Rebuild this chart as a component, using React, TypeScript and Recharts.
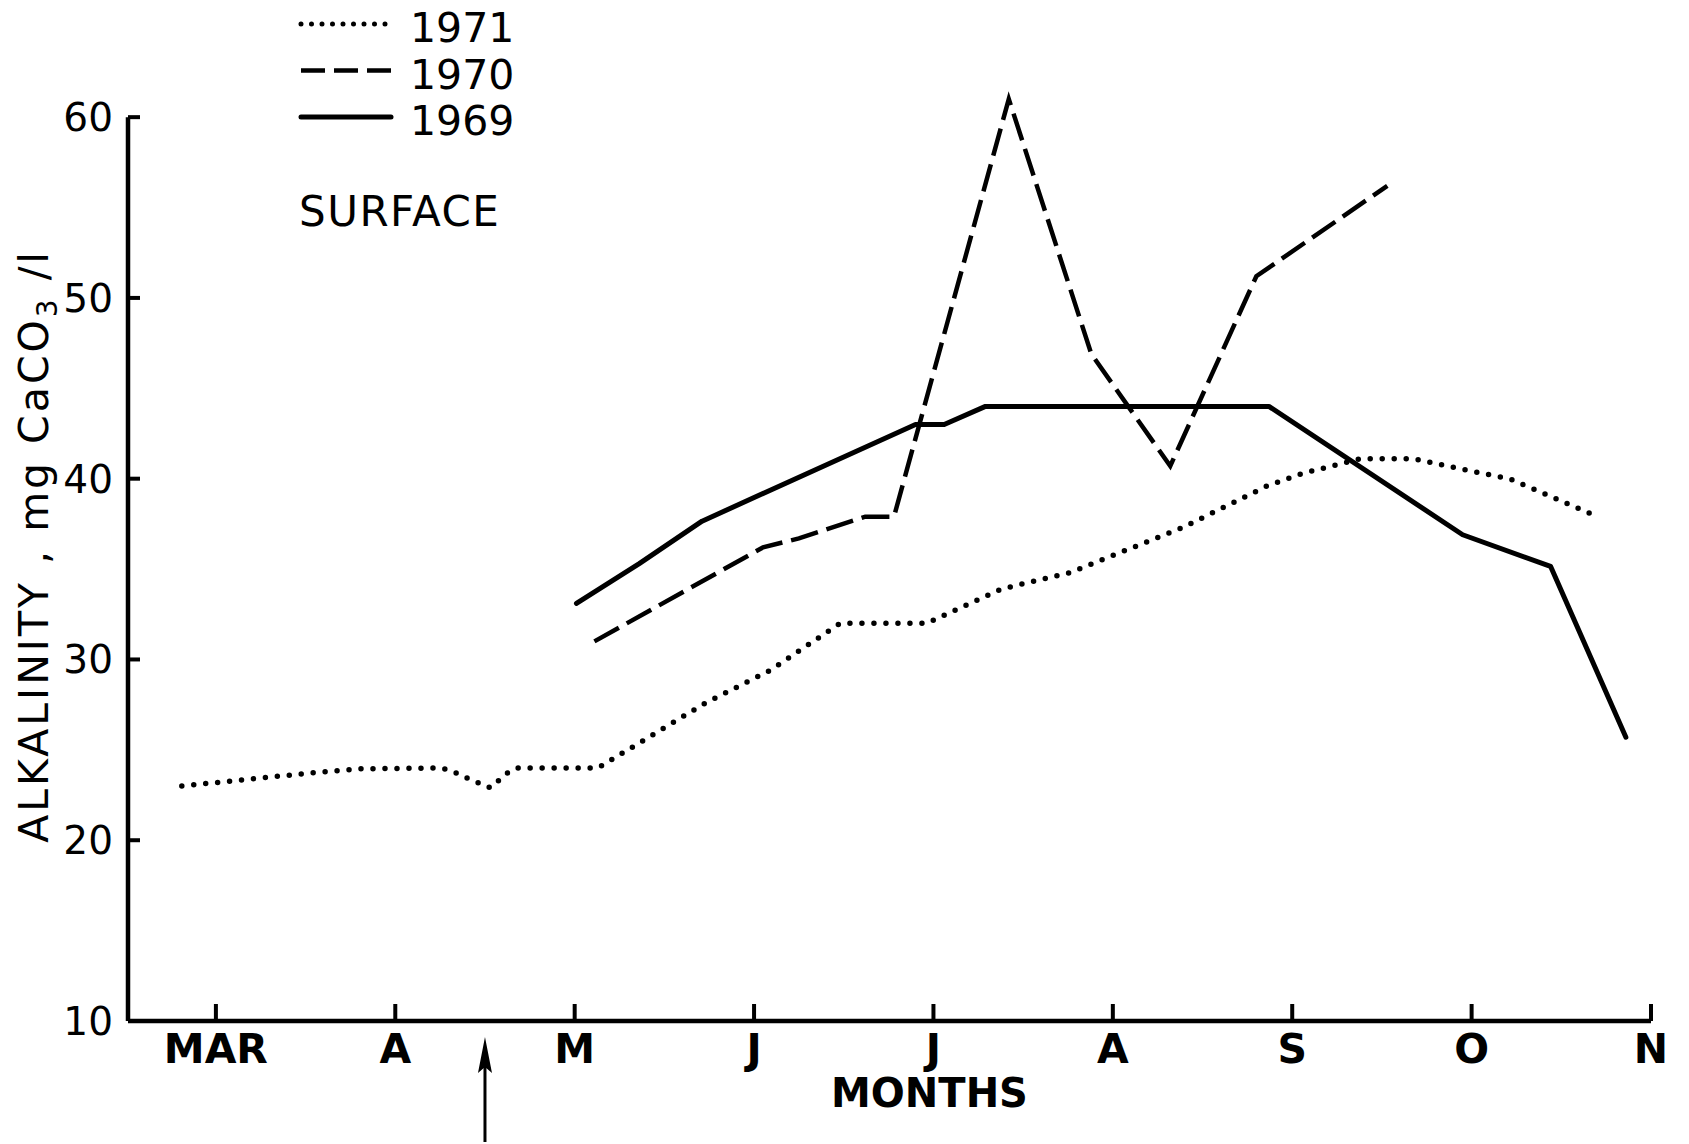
import React from 'react';
import { LineChart, Line, XAxis, YAxis, ReferenceLine, Legend, Label } from 'recharts';

// ---- axis / category data ----
const MONTH_LABELS = ['MAR', 'A', 'M', 'J', 'J', 'A', 'S', 'O', 'N'];
const MONTH_TICKS = [0, 1, 2, 3, 4, 5, 6, 7, 8];
const Y_TICKS = [10, 20, 30, 40, 50, 60];
const X_DOMAIN: [number, number] = [-0.49, 8];
const Y_DOMAIN: [number, number] = [10, 62];
const Y_AXIS_TOP = 60;
const ARROW_MONTH = 1.5;
const SERIES_NAMES = ['1971', '1970', '1969'];

// ---- series values (x = months after 1 March) ----
const X_1971 = [-0.19, 0.51, 0.8, 1.25, 1.31, 1.41, 1.53, 1.64, 1.68, 2.13, 2.73, 3.09, 3.48, 3.96, 4.38, 4.76, 5.39, 5.86, 6.06, 6.38, 6.68, 6.91, 7.21, 7.68];
const V_1971 = [23.0, 23.7, 23.95, 24.0, 23.85, 23.4, 22.9, 23.85, 24.0, 24.0, 27.6, 29.4, 32.0, 32.0, 33.9, 34.8, 37.3, 39.6, 40.3, 41.1, 41.1, 40.6, 40.0, 38.0];

const X_1970 = [2.11, 3.05, 3.25, 3.62, 3.78, 4.42, 4.88, 5.32, 5.8, 6.53];
const V_1970 = [31.0, 36.2, 36.7, 37.9, 37.9, 61.0, 46.9, 40.7, 51.2, 56.2];

const X_1969 = [2.01, 2.36, 2.71, 3.9, 4.06, 4.29, 5.87, 6.95, 7.44, 7.86];
const V_1969 = [33.1, 35.3, 37.65, 43.0, 43.0, 44.0, 44.0, 36.9, 35.15, 25.7];

const zip = (xs: number[], vs: number[]) => xs.map((x, i) => ({ x, v: vs[i] }));
const D1971 = zip(X_1971, V_1971);
const D1970 = zip(X_1970, V_1970);
const D1969 = zip(X_1969, V_1969);

// ---- styles ----
const INK = '#000';
const FONT = '"DejaVu Sans", sans-serif';
const STYLE_DOTTED = { strokeWidth: 5.5, strokeDasharray: '0 12', strokeLinecap: 'round' as const };
const STYLE_DASHED = { strokeWidth: 4.5, strokeDasharray: '28 9', strokeLinecap: 'butt' as const };
const STYLE_SOLID = { strokeWidth: 5, strokeDasharray: undefined, strokeLinecap: 'round' as const };
const SERIES_STYLES = [STYLE_DOTTED, STYLE_DASHED, STYLE_SOLID];

const MonthTick = (props: any) => {
  const { x, y, payload } = props;
  return (
    <g>
      <line x1={x} y1={y} x2={x} y2={y - 17} stroke={INK} strokeWidth={4} />
      <text x={x} y={y + 42} textAnchor="middle" fontFamily={FONT} fontWeight="bold" fontSize={41} fill={INK}>
        {MONTH_LABELS[MONTH_TICKS.indexOf(payload.value)]}
      </text>
    </g>
  );
};

const ValueTick = (props: any) => {
  const { x, y, payload } = props;
  return (
    <g>
      <line x1={x} y1={y} x2={x + 12} y2={y} stroke={INK} strokeWidth={4} />
      <text x={x - 15} y={y + 14} textAnchor="end" fontFamily={FONT} fontSize={39} fill={INK}>
        {payload.value}
      </text>
    </g>
  );
};

const YTitle = (props: any) => {
  const vb = props.viewBox;
  const cx = vb.x + vb.width - 80;
  const cy = vb.y + vb.height / 2 - 5;
  return (
    <text
      x={cx}
      y={cy}
      transform={`rotate(-90 ${cx} ${cy})`}
      textAnchor="middle"
      fontFamily={FONT}
      fontSize={41}
      letterSpacing={3}
      fill={INK}
      style={{ whiteSpace: 'pre' }}
    >
      {'ALKALINITY , mg CaCO'}
      <tspan fontSize={28} dy={9}>3</tspan>
      <tspan dy={-9}>{' /l'}</tspan>
    </text>
  );
};

const XTitle = (props: any) => {
  const vb = props.viewBox;
  return (
    <text
      x={vb.x + vb.width / 2 + 40}
      y={vb.y + 86}
      textAnchor="middle"
      fontFamily={FONT}
      fontWeight="bold"
      fontSize={40}
      fill={INK}
    >
      MONTHS
    </text>
  );
};

const ArrowShape = (props: any) => {
  const x = props.x1;
  const bottom = Math.max(props.y1, props.y2);
  const top = bottom + 16;
  return (
    <g>
      <line x1={x} y1={top + 20} x2={x} y2={bottom + 121} stroke={INK} strokeWidth={3} />
      <path d={`M ${x} ${top} L ${x - 7} ${top + 36} L ${x} ${top + 30} L ${x + 7} ${top + 36} Z`} fill={INK} />
    </g>
  );
};

const LegendBox = () => (
  <svg width={600} height={250} style={{ display: 'block' }}>
    {SERIES_NAMES.map((name, i) => {
      const cy = 24 + i * 46.5;
      const s = SERIES_STYLES[i];
      return (
        <g key={name}>
          <line
            x1={301}
            x2={391}
            y1={cy}
            y2={cy}
            stroke={INK}
            strokeWidth={i === 0 ? 5 : s.strokeWidth}
            strokeDasharray={i === 1 ? '24 9' : i === 0 ? '0 10.5' : s.strokeDasharray}
            strokeLinecap={s.strokeLinecap}
          />
          <text x={410} y={cy + 18} fontFamily={FONT} fontSize={41} fill={INK}>
            {name}
          </text>
        </g>
      );
    })}
    <text x={299} y={226} fontFamily={FONT} fontSize={42} letterSpacing={1.5} fill={INK}>
      SURFACE
    </text>
  </svg>
);

export default function App() {
  return (
    <div style={{ position: 'absolute', left: 0, top: 0, width: 1689, height: 1144, background: '#fff' }}>
      <LineChart
        width={1689}
        height={1144}
        margin={{ top: 81, right: 38, bottom: 93, left: 68 }}
        style={{ background: '#fff' }}
      >
        <XAxis
          type="number"
          dataKey="x"
          domain={X_DOMAIN}
          ticks={MONTH_TICKS}
          interval={0}
          tick={<MonthTick />}
          tickLine={false}
          tickSize={0}
          tickMargin={0}
          axisLine={{ stroke: INK, strokeWidth: 4.5 }}
          height={30}
        >
          <Label content={<XTitle />} />
        </XAxis>
        <YAxis
          type="number"
          dataKey="v"
          domain={Y_DOMAIN}
          ticks={Y_TICKS}
          interval={0}
          tick={<ValueTick />}
          tickLine={false}
          tickSize={0}
          tickMargin={0}
          axisLine={false}
          width={60}
        >
          <Label content={<YTitle />} />
        </YAxis>
        <ReferenceLine
          segment={[
            { x: X_DOMAIN[0], y: Y_DOMAIN[0] },
            { x: X_DOMAIN[0], y: Y_AXIS_TOP },
          ]}
          stroke={INK}
          strokeWidth={4.5}
          ifOverflow="visible"
        />
        <ReferenceLine x={ARROW_MONTH} shape={<ArrowShape />} ifOverflow="visible" />
        <Legend
          layout="horizontal"
          verticalAlign="middle"
          align="center"
          content={<LegendBox />}
          wrapperStyle={{ left: 0, top: 0, width: 600, height: 250 }}
        />
        <Line
          name={SERIES_NAMES[0]}
          data={D1971}
          dataKey="v"
          type="linear"
          stroke={INK}
          {...STYLE_DOTTED}
          dot={false}
          activeDot={false}
          isAnimationActive={false}
        />
        <Line
          name={SERIES_NAMES[1]}
          data={D1970}
          dataKey="v"
          type="linear"
          stroke={INK}
          {...STYLE_DASHED}
          strokeLinejoin="miter"
          dot={false}
          activeDot={false}
          isAnimationActive={false}
        />
        <Line
          name={SERIES_NAMES[2]}
          data={D1969}
          dataKey="v"
          type="linear"
          stroke={INK}
          strokeWidth={5}
          strokeLinejoin="round"
          strokeLinecap="round"
          dot={false}
          activeDot={false}
          isAnimationActive={false}
        />
      </LineChart>
    </div>
  );
}
